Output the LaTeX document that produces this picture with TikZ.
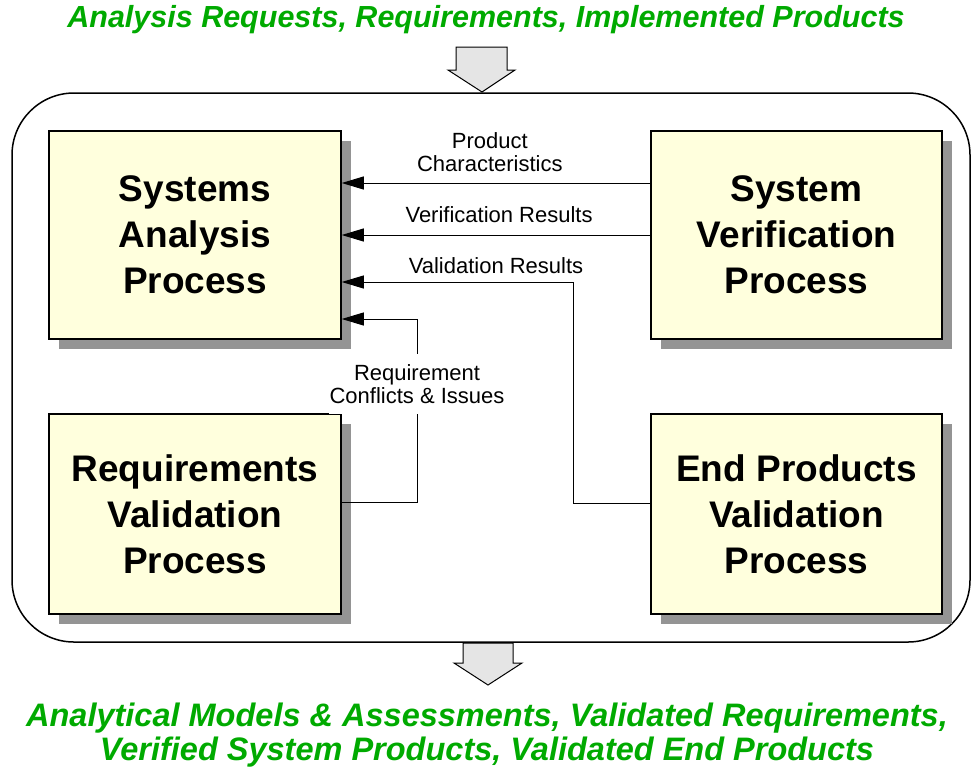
\documentclass[tikz,border=0pt]{standalone}
\usepackage{fontspec}
\setmainfont{Liberation Sans}
\usetikzlibrary{arrows.meta,shadows}
\definecolor{boxfill}{HTML}{FFFFDD}
\definecolor{outgreen}{HTML}{00AA00}
\tikzset{
procbox/.style={draw,line width=1.5pt,fill=boxfill,inner sep=0pt,
  minimum width=292pt,align=center,
  font=\fontsize{37}{46}\selectfont\bfseries,
  drop shadow={shadow xshift=10pt,shadow yshift=-10pt,fill=black!42,opacity=1}},
flow/.style={line width=1pt,-{Triangle[length=22pt,width=13pt]}},
lbl/.style={align=center,font=\fontsize{22}{23}\selectfont,inner sep=1pt},
io/.style={align=center,text=outgreen,font=\fontsize{30.5}{34}\selectfont\bfseries\itshape},
bigarrow/.style={draw,line width=1pt,fill=black!10}
}
\begin{document}
\begin{tikzpicture}[x=1pt,y=-1pt]
\useasboundingbox (0,0) rectangle (971,772);
\path (486,20) node[io] (in) {Analysis Requests, Requirements, Implemented Products}
(487,735) node[io,font=\fontsize{32.5}{34}\selectfont\bfseries\itshape] (out) {Analytical Models \& Assessments, Validated Requirements,\\Verified System Products, Validated End Products};
\draw[bigarrow] (456,47) -- (507,47) -- (507,70) -- (515,70) -- (482,92)
-- (448,70) -- (456,70) -- cycle;
\draw[line width=1.5pt,rounded corners=62pt] (12,93) rectangle (970,642);
\draw[bigarrow] (463,643) -- (513,643) -- (513,663) -- (522,663) -- (488,685)
-- (454,663) -- (463,663) -- cycle;
\node[procbox,minimum height=208pt] (sap) at (195,235) {Systems\\Analysis\\Process};
\node[procbox,minimum height=208pt,minimum width=291pt] (svp) at (796.5,235) {System\\Verification\\Process};
\node[procbox,minimum height=200pt] (rvp) at (195,514) {Requirements\\Validation\\Process};
\node[procbox,minimum height=200pt,minimum width=291pt] (epv) at (796.5,514) {End Products\\Validation\\Process};
\path (573,282) coordinate (vr)
(417,319) coordinate (rc);
\draw[flow] ([yshift=52pt]svp.west) -- ([yshift=52pt]sap.east)
node[lbl,pos=0.52,anchor=south,yshift=10pt] (pcl) {Product\\Characteristics};
\draw[flow] (svp.west) -- (sap.east)
node[lbl,pos=0.49,anchor=south,yshift=11pt] (vrl) {Verification Results};
\draw[flow] ([yshift=11pt]epv.west) -| (vr) -- (sap.east |- vr);
\draw[flow] ([yshift=12pt]rvp.east) -| (rc) -- (sap.east |- rc);
\node[lbl] (vdl) at (496,266) {Validation Results};
\node[lbl,fill=white,minimum height=60pt] (rcl) at (417,384) {Requirement\\Conflicts \& Issues};
\end{tikzpicture}
\end{document}
